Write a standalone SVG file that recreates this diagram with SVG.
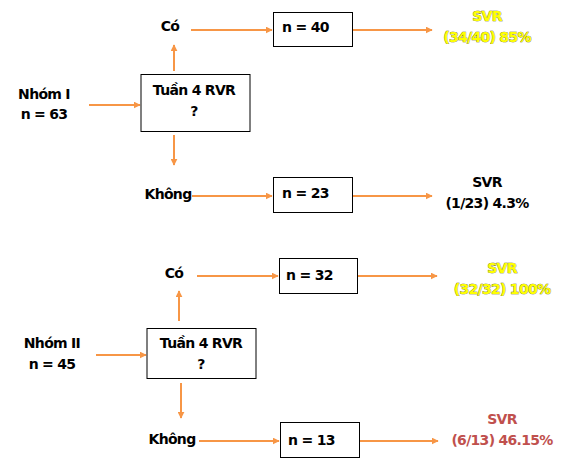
<svg xmlns="http://www.w3.org/2000/svg" width="576" height="460" viewBox="0 0 576 460">
<defs>
<marker id="ah" viewBox="0 0 10 10" refX="9" refY="5" markerWidth="7" markerHeight="7" markerUnits="userSpaceOnUse" orient="auto">
<path d="M0,0 L10,5 L0,10 z" fill="#F79646"/>
</marker>
<style>
text{font-family:"DejaVu Sans","Liberation Sans",sans-serif;font-weight:bold;font-size:14px;fill:#000;letter-spacing:-0.7px}
.c{text-anchor:middle}
.box{fill:#fff;stroke:#000;stroke-width:1}
.con line{stroke:#F79646;stroke-width:2;marker-end:url(#ah)}
.y{fill:#FFFF00;stroke:#5a5a00;stroke-width:0.6;paint-order:stroke}
.r{fill:#C0504D}
</style>
</defs>
<rect width="576" height="460" fill="#fff"/>

<g id="connectors" class="con">
<line x1="89" y1="105" x2="140" y2="105"/>
<line x1="174" y1="71" x2="174" y2="45"/>
<line x1="174" y1="135" x2="174" y2="165"/>
<line x1="191" y1="30" x2="272" y2="30"/>
<line x1="352" y1="30" x2="432" y2="30"/>
<line x1="192" y1="196" x2="272" y2="196"/>
<line x1="352" y1="196" x2="432" y2="196"/>
<line x1="96" y1="355" x2="146" y2="355"/>
<line x1="179" y1="321" x2="179" y2="291"/>
<line x1="181" y1="383" x2="181" y2="418"/>
<line x1="197" y1="276" x2="278" y2="276"/>
<line x1="357" y1="276" x2="437" y2="276"/>
<line x1="199" y1="441" x2="279" y2="441"/>
<line x1="359" y1="441" x2="438" y2="441"/>
</g>

<g id="nhom1"><text class="c" x="44" y="99">Nhóm I</text><text class="c" x="44" y="119">n = 63</text></g>
<g id="tuan4a"><rect class="box" x="141" y="74.5" width="109" height="57"/><text class="c" x="194" y="95">Tuần 4 RVR</text><text class="c" x="194" y="116">?</text></g>
<g id="co1"><text class="c" x="170" y="31">Có</text></g>
<g id="khong1"><text class="c" x="168" y="199">Không</text></g>
<g id="n40"><rect class="box" x="273.5" y="12.5" width="79" height="34"/><text x="282" y="32">n = 40</text></g>
<g id="n23"><rect class="box" x="273.5" y="177.5" width="79" height="35"/><text x="282" y="198">n = 23</text></g>
<g id="svr1"><text class="c y" x="487" y="21">SVR</text><text class="c y" x="487" y="42">(34/40) 85%</text></g>
<g id="svr2"><text class="c" x="487" y="187">SVR</text><text class="c" x="487" y="208">(1/23) 4.3%</text></g>

<g id="nhom2"><text class="c" x="52" y="348">Nhóm II</text><text class="c" x="52" y="369">n = 45</text></g>
<g id="tuan4b"><rect class="box" x="147" y="328.5" width="109" height="50"/><text class="c" x="201" y="348">Tuần 4 RVR</text><text class="c" x="201" y="369">?</text></g>
<g id="co2"><text class="c" x="174" y="278">Có</text></g>
<g id="khong2"><text class="c" x="172" y="444">Không</text></g>
<g id="n32"><rect class="box" x="279.5" y="258.5" width="78" height="35"/><text x="286" y="280">n = 32</text></g>
<g id="n13"><rect class="box" x="280.5" y="422.5" width="79" height="35"/><text x="288" y="445">n = 13</text></g>
<g id="svr3"><text class="c y" x="502" y="273">SVR</text><text class="c y" x="502" y="294">(32/32) 100%</text></g>
<g id="svr4"><text class="c r" x="502" y="424">SVR</text><text class="c r" x="502" y="445">(6/13) 46.15%</text></g>
</svg>
